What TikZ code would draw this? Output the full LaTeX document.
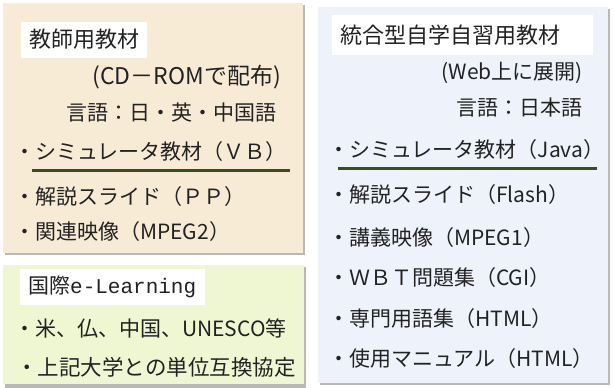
\documentclass[tikz,border=0pt]{standalone}
\usepackage{fontspec}
\setmainfont{Noto Sans CJK JP}
\newfontfamily\monofont{Liberation Mono}
\definecolor{beigebg}{HTML}{F8EBD6}
\definecolor{greenbg}{HTML}{EEF6D2}
\definecolor{bluebg}{HTML}{EEF3FB}
\definecolor{rulegreen}{HTML}{34501C}
\definecolor{inkgray}{HTML}{222222}
\begin{document}
\begin{tikzpicture}[x=1pt,y=-1pt,
  txt/.style={inner sep=0pt, font=\fontsize{21}{23}\selectfont, text=inkgray},
  ttl/.style={txt, fill=white, inner xsep=8pt, inner ysep=6pt, font=\fontsize{22}{24}\selectfont},
  shadowbox/.style={fill=black!28},
  rulebar/.style={draw=rulegreen, line width=3pt}]
\useasboundingbox[fill=white] (0,0) rectangle (614,388);
% boxes with soft shadow
\fill[shadowbox] (4.5,4.5) rectangle (304.5,254.5);
\fill[beigebg] (3,3) rectangle (303,253);
\fill[shadowbox] (4.5,266.5) rectangle (305.5,388);
\fill[greenbg] (3,265) rectangle (304,384);
\fill[shadowbox] (319.5,8.5) rectangle (609.5,385);
\fill[bluebg] (318,7) rectangle (608,383);
% left top box
\node[ttl, anchor=west, minimum height=36pt, minimum width=125pt] (t1) at (21,39.5) {教師用教材};
\node[txt, anchor=east, font=\fontsize{23}{25}\selectfont] (l1) at (281,77) {(CD－ROMで配布)};
\node[txt, anchor=east] (l2) at (277,113) {言語：日・英・中国語};
\node[txt, anchor=west] (l3) at (14,152) {・シミュレータ教材（ＶＢ）};
\coordinate (r1a) at (32,170);
\coordinate (r1b) at (290,170);
\draw[rulebar] (r1a) -- (r1b);
\node[txt, anchor=west] (l4) at (14,197) {・解説スライド（ＰＰ）};
\node[txt, anchor=west] (l5) at (14,232) {・関連映像（MPEG2）};
% left bottom box
\node[ttl, anchor=west, minimum height=36pt, minimum width=185pt, align=left, text width=169pt, font=\fontsize{21}{23}\selectfont] (t2) at (20,287) {国際{\monofont e-Learning}};
\node[txt, anchor=west] (g1) at (14,328) {・米、仏、中国、UNESCO等};
\node[txt, anchor=west, font=\fontsize{21.5}{23}\selectfont] (g2) at (16,367) {・上記大学との単位互換協定};
% right box
\node[ttl, anchor=west, minimum height=40pt, minimum width=261pt, align=left, text width=245pt] (t3) at (332,35) {統合型自学自習用教材};
\node[txt, anchor=east] (b1) at (583,73) {(Web上に展開)};
\node[txt, anchor=east] (b2) at (583,108) {言語：日本語};
\node[txt, anchor=west] (b3) at (328,150) {・シミュレータ教材（Java）};
\coordinate (r2a) at (338,168);
\coordinate (r2b) at (597,168);
\draw[rulebar] (r2a) -- (r2b);
\node[txt, anchor=west] (b4) at (328,195) {・解説スライド（Flash）};
\node[txt, anchor=west] (b5) at (328,238) {・講義映像（MPEG1）};
\node[txt, anchor=west] (b6) at (328,278) {・ＷＢＴ問題集（CGI）};
\node[txt, anchor=west] (b7) at (328,319) {・専門用語集（HTML）};
\node[txt, anchor=west] (b8) at (328,359) {・使用マニュアル（HTML）};
\end{tikzpicture}
\end{document}
